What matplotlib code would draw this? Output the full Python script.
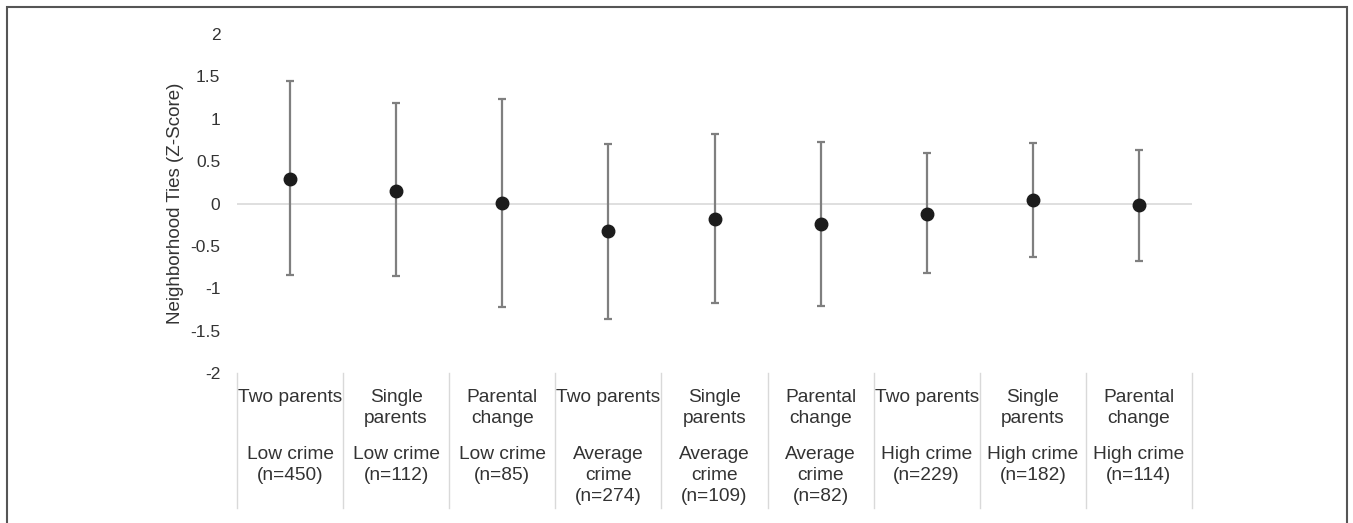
import matplotlib.pyplot as plt
from matplotlib.patches import Rectangle
from matplotlib.transforms import blended_transform_factory

plt.rcParams['font.family'] = ['Liberation Sans', 'DejaVu Sans']

# groups: family structure x neighbourhood crime level
family = ["Two parents", "Single\nparents", "Parental\nchange"] * 3
crime = ["Low crime\n(n=450)", "Low crime\n(n=112)", "Low crime\n(n=85)",
         "Average\ncrime\n(n=274)", "Average\ncrime\n(n=109)", "Average\ncrime\n(n=82)",
         "High crime\n(n=229)", "High crime\n(n=182)", "High crime\n(n=114)"]
means = [0.29, 0.15, 0.01, -0.32, -0.18, -0.245, -0.12, 0.045, -0.02]
upper = [1.44, 1.18, 1.23, 0.70, 0.82, 0.72, 0.59, 0.71, 0.63]
lower = [-0.84, -0.85, -1.22, -1.36, -1.17, -1.21, -0.82, -0.63, -0.68]

W, H = 1353, 523
fig = plt.figure(figsize=(W / 100, H / 100), dpi=100)
ax = fig.add_axes([237 / W, 1 - 373 / H, 955 / W, 339 / H])

x = list(range(len(means)))
yerr = [[m - lo for m, lo in zip(means, lower)], [up - m for m, up in zip(means, upper)]]
ax.axhline(0, color="#d9d9d9", lw=1.2, zorder=1)
ax.errorbar(x, means, yerr=yerr, fmt="o", color="#1c1c1c", ms=9,
            ecolor="#7f7f7f", elinewidth=1.6, capsize=3, capthick=1.6, zorder=3)

ax.set_xlim(-0.5, len(means) - 0.5)
ax.set_ylim(-2, 2)
ax.set_yticks([-2, -1.5, -1, -0.5, 0, 0.5, 1, 1.5, 2])
ax.set_yticklabels(["-2", "-1.5", "-1", "-0.5", "0", "0.5", "1", "1.5", "2"])
ax.tick_params(axis="y", length=0, pad=12, labelsize=12.5, labelcolor="#333333")
ax.set_xticks([])
for s in ax.spines.values():
    s.set_visible(False)
ax.set_ylabel("Neighborhood Ties (Z-Score)", fontsize=13.5, color="#333333")
ax.yaxis.set_label_coords(-0.056, 0.5)

# category table below the axis
tr = blended_transform_factory(ax.transData, ax.transAxes)
def px(y):
    return (373 - y) / 339

for b in range(len(means) + 1):
    ax.plot([b - 0.5, b - 0.5], [0, px(508)], color="#d9d9d9", lw=1,
            transform=tr, clip_on=False)
for i in x:
    ax.text(i, px(389), family[i], transform=tr, ha="center", va="top",
            fontsize=13.8, color="#333333", linespacing=1.32)
    ax.text(i, px(446), crime[i], transform=tr, ha="center", va="top",
            fontsize=13.8, color="#333333", linespacing=1.32)

fig.patches.append(Rectangle((7 / W, -0.05), 1340 / W, 1.05 - 7 / H,
                             transform=fig.transFigure, fill=False,
                             edgecolor="#555555", lw=1.5))

fig.savefig("out.png", dpi=100)
